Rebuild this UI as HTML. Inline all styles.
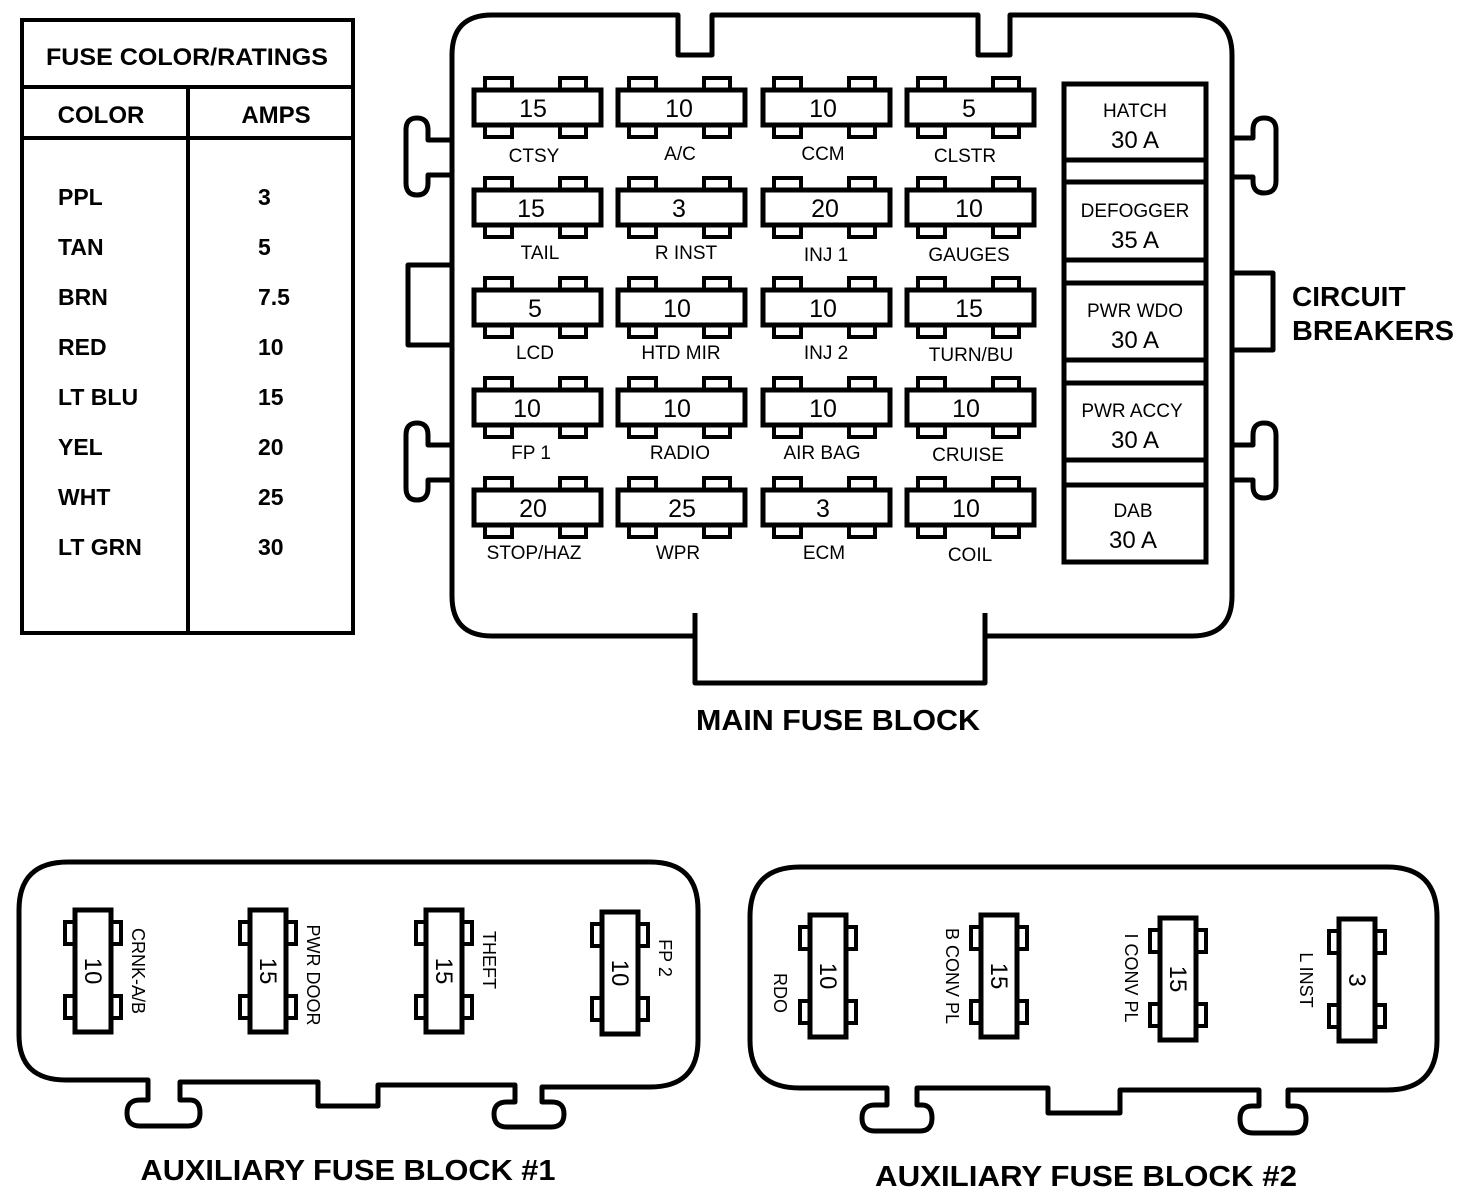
<!DOCTYPE html>
<html><head><meta charset="utf-8"><style>
html,body{margin:0;padding:0;background:#fff;}
svg{display:block;}
text{font-family:"Liberation Sans",sans-serif;fill:#000;}
.b{font-weight:bold;}
</style></head><body>
<svg width="1472" height="1204" viewBox="0 0 1472 1204" xmlns="http://www.w3.org/2000/svg">
<defs>
<g id="mf">
  <rect x="11" y="-12" width="27" height="13" fill="#fff" stroke="#000" stroke-width="4"/>
  <rect x="86" y="-12" width="26" height="13" fill="#fff" stroke="#000" stroke-width="4"/>
  <rect x="11" y="34" width="27" height="13" fill="#fff" stroke="#000" stroke-width="4"/>
  <rect x="86" y="34" width="26" height="13" fill="#fff" stroke="#000" stroke-width="4"/>
  <rect x="0" y="0" width="127" height="35" fill="#fff" stroke="#000" stroke-width="5"/>
</g>
<g id="af">
  <rect x="-10" y="12" width="12" height="22" fill="#fff" stroke="#000" stroke-width="4"/>
  <rect x="-10" y="86" width="12" height="22" fill="#fff" stroke="#000" stroke-width="4"/>
  <rect x="34" y="12" width="12" height="22" fill="#fff" stroke="#000" stroke-width="4"/>
  <rect x="34" y="86" width="12" height="22" fill="#fff" stroke="#000" stroke-width="4"/>
  <rect x="0" y="0" width="36" height="122" fill="#fff" stroke="#000" stroke-width="5"/>
</g>
</defs>

<!-- Table -->
<g fill="none" stroke="#000" stroke-width="4">
  <rect x="22" y="20" width="331" height="613"/>
  <line x1="22" y1="87" x2="353" y2="87"/>
  <line x1="22" y1="138" x2="353" y2="138"/>
  <line x1="188" y1="87" x2="188" y2="633"/>
</g>
<text x="187" y="65" class="b" font-size="24" text-anchor="middle" textLength="282" lengthAdjust="spacingAndGlyphs">FUSE COLOR/RATINGS</text>
<text x="101" y="123" class="b" font-size="24" text-anchor="middle">COLOR</text>
<text x="276" y="123" class="b" font-size="24" text-anchor="middle">AMPS</text>
<g class="b" font-size="23">
<text x="58" y="205">PPL</text><text x="258" y="205">3</text>
<text x="58" y="255">TAN</text><text x="258" y="255">5</text>
<text x="58" y="305">BRN</text><text x="258" y="305">7.5</text>
<text x="58" y="355">RED</text><text x="258" y="355">10</text>
<text x="58" y="405">LT BLU</text><text x="258" y="405">15</text>
<text x="58" y="455">YEL</text><text x="258" y="455">20</text>
<text x="58" y="505">WHT</text><text x="258" y="505">25</text>
<text x="58" y="555">LT GRN</text><text x="258" y="555">30</text>
</g>

<!-- Main block outline -->
<g fill="none" stroke="#000" stroke-width="5" stroke-linejoin="round">
<path d="M492,15 H678 V55 H712 V15 H978 V55 H1010 V15 H1192 Q1232,15 1232,55 V596 Q1232,636 1192,636 H985 M695,636 H492 Q452,636 452,596 V55 Q452,15 492,15"/>
<path d="M695,613 V683 H985 V613"/>
<path d="M452,140 H428 V130 Q428,118 417,118 Q406,118 406,130 V183 Q406,195 417,195 Q428,195 428,183 V175 H452"/>
<path d="M452,445 H428 V435 Q428,423 417,423 Q406,423 406,435 V488 Q406,500 417,500 Q428,500 428,488 V480 H452"/>
<path d="M452,265 H408 V345 H452"/>
<path d="M1232,138 H1253 V130 Q1253,118 1264,118 Q1276,118 1276,130 V181 Q1276,193 1264,193 Q1253,193 1253,181 V177 H1232"/>
<path d="M1232,445 H1253 V435 Q1253,423 1264,423 Q1276,423 1276,435 V486 Q1276,498 1264,498 Q1253,498 1253,486 V480 H1232"/>
<path d="M1232,273 H1273 V350 H1232"/>
</g>

<!-- Main fuses -->
<g>
<use href="#mf" x="474" y="90"/><use href="#mf" x="618" y="90"/><use href="#mf" x="763" y="90"/><use href="#mf" x="907" y="90"/>
<use href="#mf" x="474" y="190"/><use href="#mf" x="618" y="190"/><use href="#mf" x="763" y="190"/><use href="#mf" x="907" y="190"/>
<use href="#mf" x="474" y="290"/><use href="#mf" x="618" y="290"/><use href="#mf" x="763" y="290"/><use href="#mf" x="907" y="290"/>
<use href="#mf" x="474" y="390"/><use href="#mf" x="618" y="390"/><use href="#mf" x="763" y="390"/><use href="#mf" x="907" y="390"/>
<use href="#mf" x="474" y="490"/><use href="#mf" x="618" y="490"/><use href="#mf" x="763" y="490"/><use href="#mf" x="907" y="490"/>
</g>
<g font-size="25" text-anchor="middle">
<text x="533" y="117">15</text><text x="679" y="117">10</text><text x="823" y="117">10</text><text x="969" y="117">5</text>
<text x="531" y="217">15</text><text x="679" y="217">3</text><text x="825" y="217">20</text><text x="969" y="217">10</text>
<text x="535" y="317">5</text><text x="677" y="317">10</text><text x="823" y="317">10</text><text x="969" y="317">15</text>
<text x="527" y="417">10</text><text x="677" y="417">10</text><text x="823" y="417">10</text><text x="966" y="417">10</text>
<text x="533" y="517">20</text><text x="682" y="517">25</text><text x="823" y="517">3</text><text x="966" y="517">10</text>
</g>
<g font-size="19" text-anchor="middle">
<text x="534" y="162">CTSY</text><text x="680" y="160">A/C</text><text x="823" y="160">CCM</text><text x="965" y="162">CLSTR</text>
<text x="540" y="259">TAIL</text><text x="686" y="259">R INST</text><text x="826" y="261">INJ 1</text><text x="969" y="261">GAUGES</text>
<text x="535" y="359">LCD</text><text x="681" y="359">HTD MIR</text><text x="826" y="359">INJ 2</text><text x="971" y="361">TURN/BU</text>
<text x="531" y="459">FP 1</text><text x="680" y="459">RADIO</text><text x="822" y="459">AIR BAG</text><text x="968" y="461">CRUISE</text>
<text x="534" y="559">STOP/HAZ</text><text x="678" y="559">WPR</text><text x="824" y="559">ECM</text><text x="970" y="561">COIL</text>
</g>

<!-- Circuit breakers -->
<g fill="none" stroke="#000" stroke-width="5">
<rect x="1064" y="84" width="142" height="478"/>
<line x1="1064" y1="160" x2="1206" y2="160"/><line x1="1064" y1="182" x2="1206" y2="182"/>
<line x1="1064" y1="260" x2="1206" y2="260"/><line x1="1064" y1="283" x2="1206" y2="283"/>
<line x1="1064" y1="360" x2="1206" y2="360"/><line x1="1064" y1="383" x2="1206" y2="383"/>
<line x1="1064" y1="460" x2="1206" y2="460"/><line x1="1064" y1="485" x2="1206" y2="485"/>
</g>
<g text-anchor="middle">
<text x="1135" y="117" font-size="19">HATCH</text><text x="1135" y="148" font-size="24">30 A</text>
<text x="1135" y="217" font-size="19">DEFOGGER</text><text x="1135" y="248" font-size="24">35 A</text>
<text x="1135" y="317" font-size="19">PWR WDO</text><text x="1135" y="348" font-size="24">30 A</text>
<text x="1132" y="417" font-size="19">PWR ACCY</text><text x="1135" y="448" font-size="24">30 A</text>
<text x="1133" y="517" font-size="19">DAB</text><text x="1133" y="548" font-size="24">30 A</text>
</g>
<text x="1292" y="306" class="b" font-size="28">CIRCUIT</text>
<text x="1292" y="340" class="b" font-size="28" textLength="162" lengthAdjust="spacingAndGlyphs">BREAKERS</text>
<text x="838" y="730" class="b" font-size="29" text-anchor="middle" textLength="284" lengthAdjust="spacingAndGlyphs">MAIN FUSE BLOCK</text>

<!-- Aux block 1 -->
<g fill="none" stroke="#000" stroke-width="5" stroke-linejoin="round">
<path d="M68,862 H650 Q698,862 698,910 V1040 Q698,1087 650,1087 H542 V1102 H552 Q564,1102 564,1114 Q564,1127 551,1127 H507 Q494,1127 494,1114 Q494,1102 507,1102 H515 V1085 H378 V1106 H318 V1082 H180 V1100 H190 Q200,1100 200,1113 Q200,1126 188,1126 H140 Q127,1126 127,1113 Q127,1100 140,1100 H148 V1080 H66 Q19,1080 19,1035 V910 Q19,862 68,862 Z"/>
</g>
<use href="#af" x="75" y="910"/><use href="#af" x="250" y="910"/><use href="#af" x="426" y="910"/><use href="#af" x="602" y="912"/>
<g font-size="24" text-anchor="middle">
<text transform="translate(85,971) rotate(90)">10</text>
<text transform="translate(260,971) rotate(90)">15</text>
<text transform="translate(436,971) rotate(90)">15</text>
<text transform="translate(612,973) rotate(90)">10</text>
</g>
<g font-size="18" text-anchor="middle">
<text transform="translate(132,971) rotate(90)">CRNK-A/B</text>
<text transform="translate(307,975) rotate(90)">PWR DOOR</text>
<text transform="translate(483,960) rotate(90)">THEFT</text>
<text transform="translate(659,958) rotate(90)">FP 2</text>
</g>
<text x="348" y="1180" class="b" font-size="29" text-anchor="middle" textLength="415" lengthAdjust="spacingAndGlyphs">AUXILIARY FUSE BLOCK #1</text>

<!-- Aux block 2 -->
<g fill="none" stroke="#000" stroke-width="5" stroke-linejoin="round">
<path d="M800,867 H1387 Q1437,867 1437,917 V1040 Q1437,1090 1387,1090 H1288 V1106 H1295 Q1306,1106 1306,1119 Q1306,1133 1293,1133 H1253 Q1240,1133 1240,1119 Q1240,1106 1252,1106 H1259 V1090 H1120 V1113 H1048 V1088 H917 V1105 H922 Q932,1105 932,1118 Q932,1131 920,1131 H875 Q862,1131 862,1118 Q862,1105 875,1105 H887 V1088 H800 Q750,1088 750,1040 V917 Q750,867 800,867 Z"/>
</g>
<use href="#af" x="810" y="915"/><use href="#af" x="981" y="915"/><use href="#af" x="1160" y="918"/><use href="#af" x="1339" y="919"/>
<g font-size="24" text-anchor="middle">
<text transform="translate(820,976) rotate(90)">10</text>
<text transform="translate(991,976) rotate(90)">15</text>
<text transform="translate(1170,979) rotate(90)">15</text>
<text transform="translate(1349,980) rotate(90)">3</text>
</g>
<g font-size="18" text-anchor="middle">
<text transform="translate(774,993) rotate(90)">RDO</text>
<text transform="translate(946,976) rotate(90)">B CONV PL</text>
<text transform="translate(1125,978) rotate(90)">I CONV PL</text>
<text transform="translate(1300,980) rotate(90)">L INST</text>
</g>
<text x="1086" y="1186" class="b" font-size="29" text-anchor="middle" textLength="422" lengthAdjust="spacingAndGlyphs">AUXILIARY FUSE BLOCK #2</text>
</svg>
</body></html>
